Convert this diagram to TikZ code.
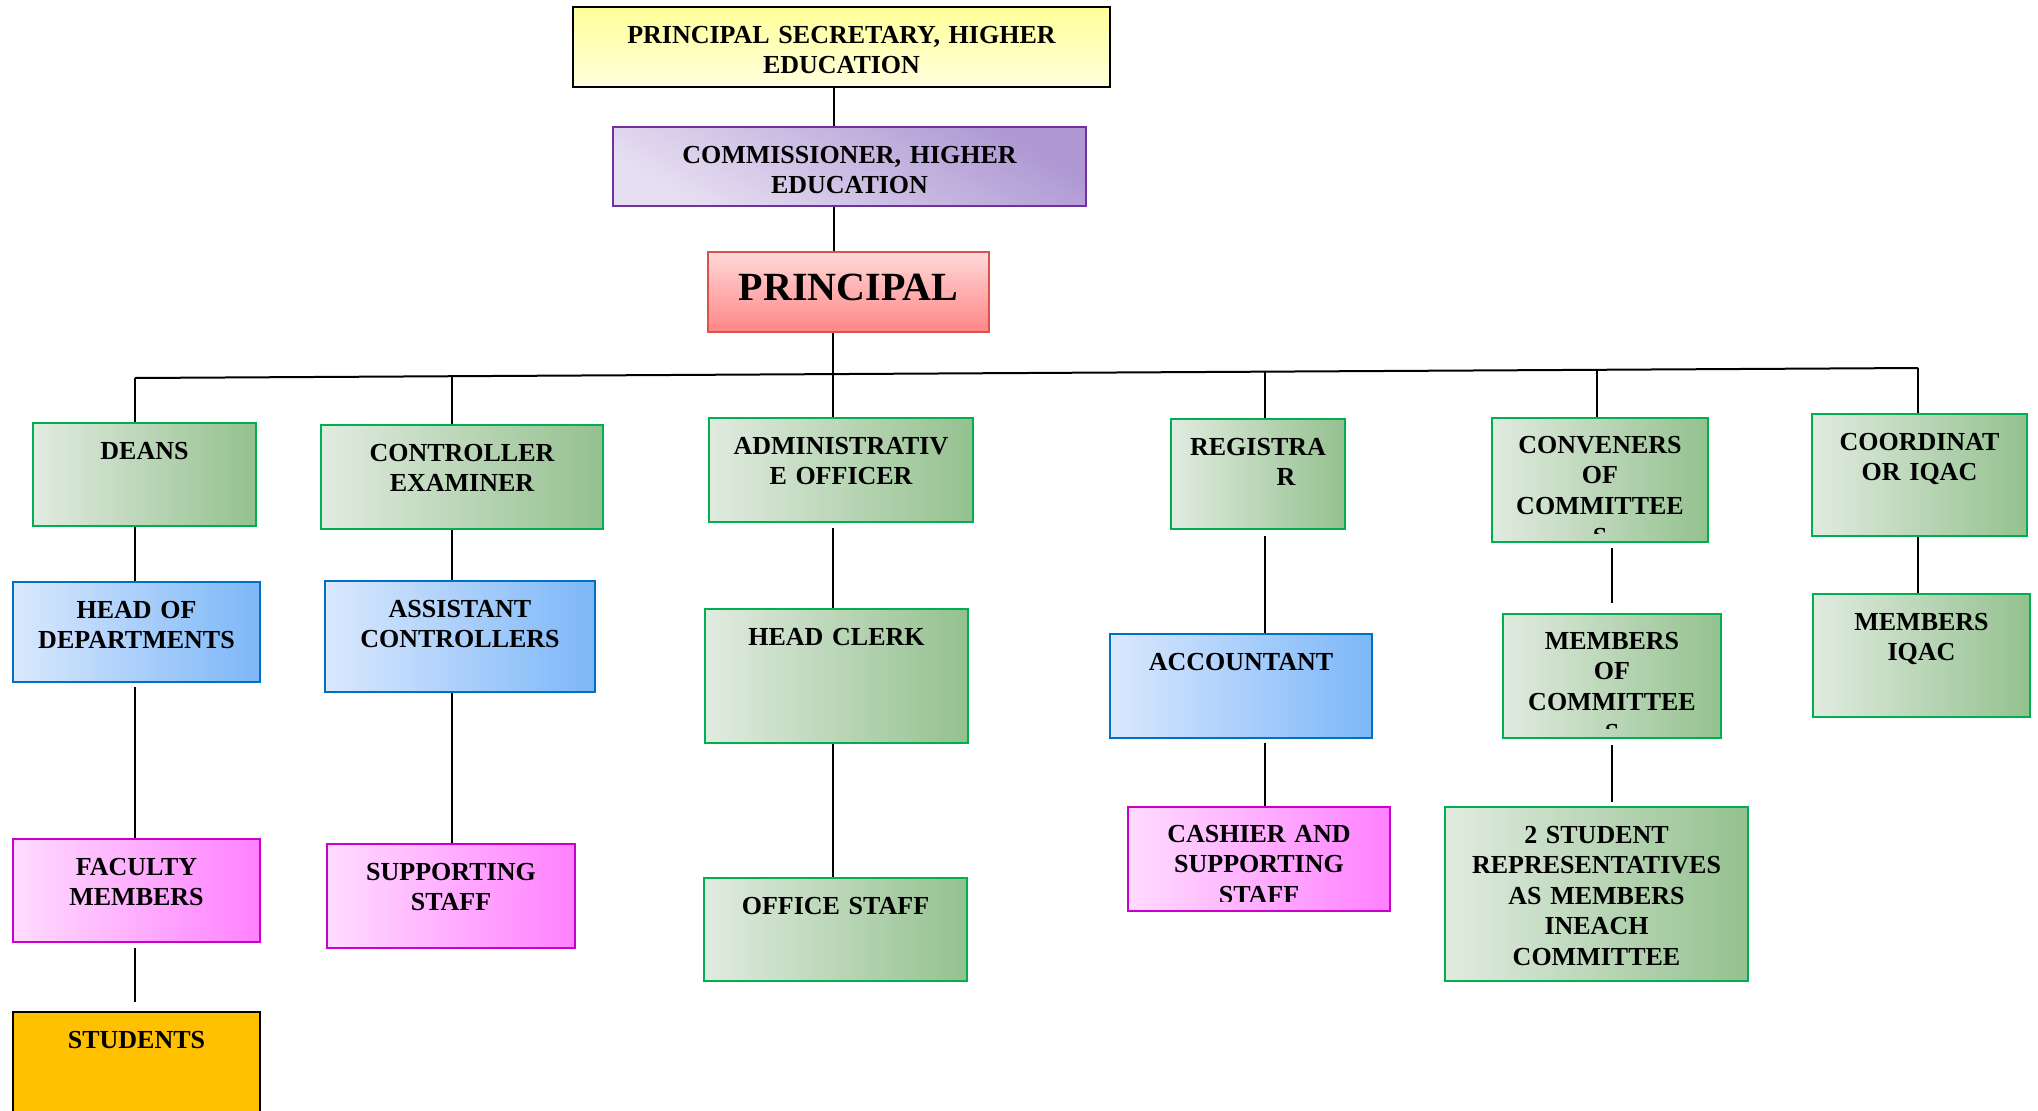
\documentclass[tikz,border=0pt]{standalone}
\usepackage{fontspec}
\setmainfont{Liberation Serif}
\usetikzlibrary{calc}

\definecolor{grnL}{HTML}{E1EBE0}
\definecolor{grnR}{HTML}{94C18F}
\definecolor{grnLine}{HTML}{00B050}
\definecolor{bluL}{HTML}{DAE8FD}
\definecolor{bluR}{HTML}{7CB7F8}
\definecolor{bluLine}{HTML}{0070C0}
\definecolor{pnkL}{HTML}{FFDCFF}
\definecolor{pnkR}{HTML}{FF80FF}
\definecolor{pnkLine}{HTML}{CC00CC}
\definecolor{ylwT}{HTML}{FFFF99}
\definecolor{ylwB}{HTML}{FFFFDD}
\definecolor{vioL}{HTML}{E6DFF1}
\definecolor{vioD}{HTML}{AE97D3}
\definecolor{vioLine}{HTML}{7030A0}
\definecolor{redT}{HTML}{FFD9D9}
\definecolor{redB}{HTML}{FF8585}
\definecolor{redLine}{HTML}{D9534F}
\definecolor{amber}{HTML}{FFC000}

\begin{document}
\begin{tikzpicture}[x=1pt, y=-1pt,
  post/.style={rectangle, draw, line width=2pt, inner sep=0pt, anchor=north west,
    align=center, text height=36pt, font=\bfseries\fontsize{26}{30.6}\selectfont},
  postsize/.style 2 args={text width=#1, text depth=#2},
  greenpost/.style={post, draw=grnLine, left color=grnL, right color=grnR},
  bluepost/.style={post, draw=bluLine, left color=bluL, right color=bluR},
  pinkpost/.style={post, draw=pnkLine, left color=pnkL, right color=pnkR},
  posttext/.style={inner sep=0pt, anchor=north, align=center, text height=36pt,
    font=\bfseries\fontsize{26}{30.6}\selectfont},
  link/.style={draw, line width=2pt}]

  \useasboundingbox (0,0) rectangle (2038,1111);

  % top of the chart
  \node[post, top color=ylwT, bottom color=ylwB, postsize={537pt}{44pt}] (secy) at (572,6) {PRINCIPAL SECRETARY, HIGHER\\EDUCATION};
  \node[post, draw=vioLine, top color=vioD, bottom color=vioL, shading angle=-30, postsize={473pt}{43pt}] (comm) at (612,126) {COMMISSIONER, HIGHER\\EDUCATION};
  \node[post, draw=redLine, top color=redT, bottom color=redB, text height=48pt, font=\bfseries\fontsize{40}{46}\selectfont, postsize={281pt}{32pt}] (principal) at (707,251) {PRINCIPAL};

  % first row
  \node[greenpost, postsize={223pt}{67pt}] (deans) at (32,422) {DEANS};
  \node[greenpost, postsize={282pt}{68pt}] (ctrl) at (320,424) {CONTROLLER\\EXAMINER};
  \node[greenpost, postsize={264pt}{68pt}] (admin) at (708,417) {ADMINISTRATIV\\E OFFICER};
  \node[greenpost, postsize={174pt}{74pt}] (reg) at (1170,418) {REGISTRA\\\hspace*{56pt}R};
  \node[greenpost, postsize={216pt}{88pt}] (conv) at (1491,417) {};
  \begin{scope}
    \clip (conv.north west) rectangle ([yshift=10pt]conv.south east);
    \node[posttext, text width=216pt] (convtext) at (conv.north) {CONVENERS\\OF\\COMMITTEE\\S};
  \end{scope}
  \node[greenpost, postsize={215pt}{86pt}] (coord) at (1811,413) {COORDINAT\\OR IQAC};

  % second row
  \node[bluepost, postsize={247pt}{64pt}] (hod) at (12,581) {HEAD OF\\DEPARTMENTS};
  \node[bluepost, postsize={270pt}{75pt}] (asst) at (324,580) {ASSISTANT\\CONTROLLERS};
  \node[greenpost, postsize={263pt}{98pt}] (hclerk) at (704,608) {HEAD CLERK};
  \node[bluepost, postsize={262pt}{68pt}] (acct) at (1109,633) {ACCOUNTANT};
  \node[greenpost, postsize={218pt}{88pt}] (memc) at (1502,613) {};
  \begin{scope}
    \clip (memc.north west) rectangle ([yshift=11pt]memc.south east);
    \node[posttext, text width=218pt] (memctext) at (memc.north) {MEMBERS\\OF\\COMMITTEE\\S};
  \end{scope}
  \node[greenpost, postsize={217pt}{87pt}] (memq) at (1812,593) {MEMBERS\\IQAC};

  % third row
  \node[pinkpost, postsize={247pt}{67pt}] (fac) at (12,838) {FACULTY\\MEMBERS};
  \node[pinkpost, postsize={248pt}{68pt}] (supp) at (326,843) {SUPPORTING\\STAFF};
  \node[greenpost, postsize={263pt}{67pt}] (office) at (703,877) {OFFICE STAFF};
  \node[pinkpost, postsize={262pt}{68pt}] (cash) at (1127,806) {};
  \begin{scope}
    \clip (cash.north west) rectangle ([yshift=11pt]cash.south east);
    \node[posttext, text width=262pt] (cashtext) at (cash.north) {CASHIER AND\\SUPPORTING\\STAFF};
  \end{scope}
  \node[greenpost, postsize={303pt}{138pt}] (reps) at (1444,806) {2 STUDENT\\REPRESENTATIVES\\AS MEMBERS\\INEACH\\COMMITTEE};

  % bottom
  \node[post, fill=amber, postsize={247pt}{94pt}] (stud) at (12,1011) {STUDENTS};

  % connectors
  \coordinate (spine) at (834,0);
  \coordinate (t1) at (135,378);
  \coordinate (t2) at (452,376.2);
  \coordinate (t3) at (833,374.1);
  \coordinate (t4) at (1265,371.7);
  \coordinate (t5) at (1597,369.8);
  \coordinate (t6) at (1918,368);

  \draw[link] (secy.south -| spine) -- (comm.north -| spine);
  \draw[link] (comm.south -| spine) -- (principal.north -| spine);
  \draw[link] (principal.south -| t3) -- (t3);
  \draw[link] (t1) -- (t6);

  \draw[link] (t1) -- (t1 |- deans.north);
  \draw[link] (t2) -- (t2 |- ctrl.north);
  \draw[link] (t3) -- (t3 |- admin.north);
  \draw[link] (t4) -- (t4 |- reg.north);
  \draw[link] (t5) -- (t5 |- conv.north);
  \draw[link] (t6) -- (t6 |- coord.north);

  \draw[link] (deans.south -| t1) -- (hod.north -| t1);
  \draw[link, shorten <=4pt] (hod.south -| t1) -- (fac.north -| t1);
  \draw[link, shorten <=5pt, shorten >=9pt] (fac.south -| t1) -- (stud.north -| t1);
  \draw[link] (ctrl.south -| t2) -- (asst.north -| t2);
  \draw[link] (asst.south -| t2) -- (supp.north -| t2);
  \draw[link, shorten <=5pt] (admin.south -| t3) -- (hclerk.north -| t3);
  \draw[link] (hclerk.south -| t3) -- (office.north -| t3);
  \draw[link, shorten <=6pt] (reg.south -| t4) -- (acct.north -| t4);
  \draw[link, shorten <=4pt] (acct.south -| t4) -- (cash.north -| t4);
  \draw[link, shorten <=5pt, shorten >=10pt] (conv.south -| memc.north) -- (memc.north);
  \draw[link, shorten <=6pt, shorten >=4pt] (memc.south) -- (reps.north -| memc.south);
  \draw[link] (coord.south -| t6) -- (memq.north -| t6);

\end{tikzpicture}
\end{document}
